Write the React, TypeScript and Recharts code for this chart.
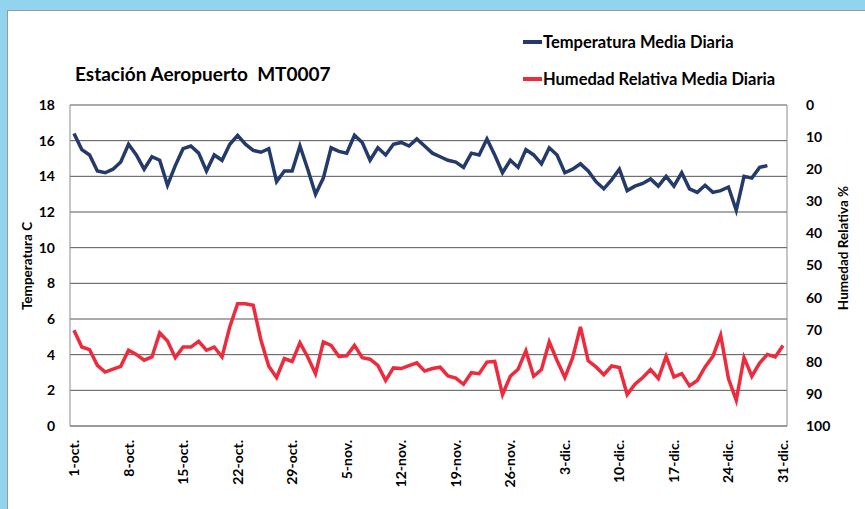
import { LineChart, Line, XAxis, YAxis, CartesianGrid } from "recharts";

const months = [
  { abbr: "oct.", days: 31 },
  { abbr: "nov.", days: 30 },
  { abbr: "dic.", days: 31 },
];

const days: string[] = [];
months.forEach((m) => {
  for (let d = 1; d <= m.days; d++) days.push(`${d}-${m.abbr}`);
});

// temperatura media diaria (°C), 1-oct .. 29-dic
const temperatura = [
  16.4, 15.5, 15.2, 14.3, 14.2, 14.4, 14.8, 15.8, 15.2, 14.4,
  15.1, 14.9, 13.5, 14.6, 15.55, 15.7, 15.3, 14.3, 15.2, 14.9,
  15.8, 16.3, 15.8, 15.45, 15.35, 15.55, 13.7, 14.3, 14.3, 15.7,
  14.4, 13.0, 13.9, 15.6, 15.4, 15.3, 16.3, 15.9, 14.9, 15.6,
  15.2, 15.8, 15.9, 15.7, 16.1, 15.7, 15.3, 15.1, 14.9, 14.8,
  14.5, 15.3, 15.2, 16.1, 15.2, 14.2, 14.9, 14.5, 15.5, 15.2,
  14.7, 15.6, 15.2, 14.2, 14.4, 14.7, 14.3, 13.7, 13.3, 13.8,
  14.4, 13.2, 13.45, 13.6, 13.85, 13.45, 14.0, 13.45, 14.2, 13.3,
  13.1, 13.5, 13.1, 13.2, 13.4, 12.1, 14.0, 13.9, 14.5, 14.6,
];

// humedad relativa media diaria (%), 1-oct .. 31-dic
const humedad = [
  70.2, 75.4, 76.2, 81.1, 83.2, 82.3, 81.4, 76.4, 77.7, 79.5,
  78.5, 71.0, 73.5, 78.7, 75.4, 75.4, 73.6, 76.4, 75.4, 78.5,
  69.1, 61.9, 61.9, 62.4, 73.3, 81.4, 84.9, 79.0, 79.9, 74.1,
  78.5, 83.7, 73.8, 74.9, 78.3, 78.1, 74.9, 78.7, 79.2, 81.1,
  85.8, 81.9, 82.1, 81.2, 80.3, 82.9, 82.1, 81.7, 84.4, 85.1,
  87.0, 83.4, 83.7, 80.1, 79.9, 90.2, 84.5, 82.3, 76.6, 84.5,
  82.4, 73.8, 79.6, 84.9, 78.7, 69.1, 79.7, 81.6, 84.0, 81.3,
  81.8, 90.2, 87.0, 84.9, 82.4, 85.2, 78.3, 84.7, 83.7, 87.5,
  85.8, 81.6, 78.3, 71.7, 85.2, 92.0, 78.7, 84.5, 80.4, 77.7,
  78.5, 74.9,
];

const tempTicks = [0, 2, 4, 6, 8, 10, 12, 14, 16, 18];
const humTicks = [0, 10, 20, 30, 40, 50, 60, 70, 80, 90, 100];

const data = days.map((name, i) => ({
  name,
  temp: i < temperatura.length ? temperatura[i] : null,
  hum: humedad[i],
}));

const NAVY = "#243a6b";
const RED = "#ee2a3d";
const FONT = "Lato, 'Liberation Sans', sans-serif";
const tickStyle = { fontSize: 14, fontWeight: 700, fill: "#000", fontFamily: FONT };

function DateTick({ x, y, payload }: { x?: number; y?: number; payload?: { value: string } }) {
  return (
    <text
      x={x}
      y={y}
      dy={5}
      transform={`rotate(-90 ${x} ${y})`}
      textAnchor="end"
      fontFamily={FONT}
      fontWeight={700}
      fontSize={14}
      fill="#000"
    >
      {payload?.value}
    </text>
  );
}

export default function App() {
  return (
    <div
      style={{
        position: "absolute",
        left: 0,
        top: 0,
        width: 865,
        height: 509,
        background: "#92d3ee",
        overflow: "hidden",
        fontFamily: FONT,
      }}
    >
      <div
        style={{
          position: "absolute",
          left: 7,
          top: 10,
          right: 0,
          bottom: 0,
          background: "#fff",
          borderTop: "1px solid #9a9a9a",
          borderLeft: "1px solid #9a9a9a",
        }}
      />
      <div
        style={{
          position: "absolute",
          left: 75,
          top: 62,
          fontSize: 19,
          fontWeight: 700,
          color: "#000",
          whiteSpace: "pre",
        }}
      >
        {"Estación Aeropuerto  MT0007"}
      </div>
      {[
        { label: "Temperatura Media Diaria", color: NAVY, top: 32 },
        { label: "Humedad Relativa Media Diaria", color: RED, top: 69 },
      ].map((item) => (
        <div
          key={item.label}
          style={{
            position: "absolute",
            left: 523,
            top: item.top,
            display: "flex",
            alignItems: "center",
            fontSize: 16.5,
            fontWeight: 700,
            color: "#000",
            whiteSpace: "nowrap",
          }}
        >
          <span style={{ display: "inline-block", width: 19, height: 3.5, background: item.color, marginRight: 1 }} />
          {item.label}
        </div>
      ))}
      <div
        style={{
          position: "absolute",
          left: 27,
          top: 266,
          transform: "translate(-50%, -50%) rotate(-90deg)",
          fontSize: 13.5,
          fontWeight: 700,
          whiteSpace: "nowrap",
        }}
      >
        Temperatura C
      </div>
      <div
        style={{
          position: "absolute",
          left: 843,
          top: 248,
          transform: "translate(-50%, -50%) rotate(-90deg)",
          fontSize: 13.5,
          fontWeight: 700,
          whiteSpace: "nowrap",
        }}
      >
        Humedad Relativa %
      </div>
      <div style={{ position: "absolute", left: 0, top: 0 }}>
        <LineChart width={865} height={509} data={data} margin={{ top: 105, right: 0, bottom: 0, left: 0 }}>
          <CartesianGrid yAxisId="t" vertical={false} stroke="#555" />
          <XAxis
            dataKey="name"
            interval={6}
            padding={{ left: 4, right: 4 }}
            height={83}
            tickLine={false}
            tickSize={0}
            tickMargin={14}
            axisLine={{ stroke: "#8c8c8c" }}
            tick={<DateTick />}
          />
          <YAxis
            yAxisId="t"
            domain={[0, 18]}
            ticks={tempTicks}
            width={70}
            tickLine={false}
            tickSize={0}
            tickMargin={15}
            axisLine={{ stroke: "#8c8c8c" }}
            tick={tickStyle}
          />
          <YAxis
            yAxisId="h"
            orientation="right"
            domain={[0, 100]}
            reversed
            ticks={humTicks}
            width={78}
            tickLine={false}
            tickSize={0}
            tickMargin={19}
            axisLine={{ stroke: "#8c8c8c" }}
            tick={{ ...tickStyle, textAnchor: "start" }}
          />
          <Line
            yAxisId="t"
            dataKey="temp"
            stroke={NAVY}
            strokeWidth={3.5}
            dot={false}
            activeDot={false}
            isAnimationActive={false}
          />
          <Line
            yAxisId="h"
            dataKey="hum"
            stroke={RED}
            strokeWidth={3.5}
            dot={false}
            activeDot={false}
            isAnimationActive={false}
          />
        </LineChart>
      </div>
    </div>
  );
}
